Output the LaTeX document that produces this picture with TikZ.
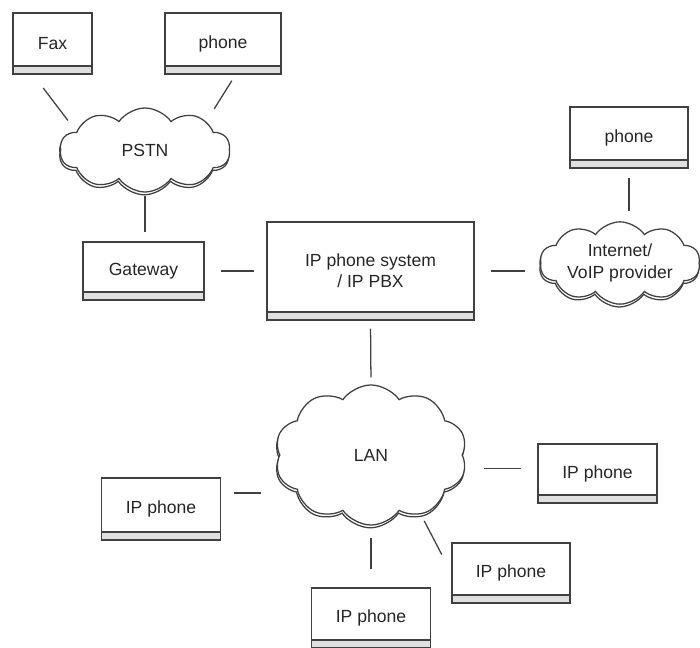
\documentclass[tikz,border=0pt]{standalone}
\usepackage{fontspec}
\setmainfont{Liberation Sans}
\usetikzlibrary{shapes.symbols,shadows}
\tikzset{
  devbox/.style={draw=black!75, line width=0.9pt, fill=white, minimum height=1.5cm,
    align=center, text=black!85, font=\fontsize{12.5}{15}\selectfont,
    path picture={
      \fill[gray!25] (path picture bounding box.south west) rectangle ([yshift=0.2cm]path picture bounding box.south east);
      \draw[black!75, line width=0.9pt] ([yshift=0.2cm]path picture bounding box.south west) -- ([yshift=0.2cm]path picture bounding box.south east);
    }},
  net/.style={cloud, cloud puffs=10, cloud puff arc=110, draw=black!75, line width=0.9pt,
    fill=white, inner sep=0pt, align=center, text=black!85, font=\fontsize{12.5}{15}\selectfont,
    copy shadow={shadow xshift=-0.5pt, shadow yshift=-2pt, draw=black!75, fill=white}},
  link/.style={draw=black!75, line width=0.9pt},
}
\begin{document}
\begin{tikzpicture}[x=0.025cm,y=-0.025cm]
\useasboundingbox (0,0) rectangle (700,648);

% analogue side
\node[devbox, minimum width=1.975cm, minimum height=1.525cm] (fax) at (52.5,43.5) {Fax};
\node[devbox, minimum width=2.9cm, minimum height=1.525cm] (phoneA) at (223,43.5) {phone};
\node[net, minimum width=4.25cm, minimum height=2.1cm, aspect=2] (pstn) at (145,150) {PSTN};
\node[devbox, minimum width=3.025cm, minimum height=1.45cm] (gateway) at (143.5,271) {Gateway};

% system and provider
\node[devbox, minimum width=5.175cm, minimum height=2.45cm] (pbx) at (370.5,271) {IP phone system\\/ IP PBX};
\node[devbox, minimum width=2.95cm, minimum height=1.525cm] (phoneB) at (629,137.5) {phone};
\node[net, minimum width=4cm, minimum height=2.05cm, aspect=2, inner sep=-5pt] (inet) at (620,263) {Internet/\\VoIP provider};

% local network
\node[net, minimum width=4.8cm, minimum height=3.5cm, aspect=1.37] (lan) at (371,455) {LAN};
\node[devbox, minimum width=2.975cm, minimum height=1.475cm] (ipR) at (597.5,473.5) {IP phone};
\node[devbox, minimum width=2.975cm, minimum height=1.55cm] (ipL) at (161,509) {IP phone};
\node[devbox, minimum width=2.95cm] (ipBR) at (511,573) {IP phone};
\node[devbox, minimum width=2.975cm] (ipB) at (371,618) {IP phone};

% connectors
\draw[link, shorten <=0.42cm, shorten >=0.35cm] (fax.238) -- (pstn.165);
\draw[link, shorten <=0.18cm, shorten >=0.37cm] (phoneA.292) -- (pstn.25);
\draw[link, shorten <=0.075cm, shorten >=0.225cm] (pstn.south) -- (pstn.south |- gateway.north);
\draw[link, shorten <=0.4cm, shorten >=0.3cm] (gateway.east) -- (pbx.west);
\draw[link, shorten <=0.4cm, shorten >=0.375cm] (pbx.east) -- (pbx.east -| inet.west);
\draw[link, shorten <=0.225cm, shorten >=0.25cm] (phoneB.south) -- (phoneB.south |- inet.north);
\draw[link, shorten <=0.2cm, shorten >=0.175cm] (pbx.south) -- (lan.north);
\draw[link, shorten <=0.4cm, shorten >=0.525cm] (ipR.175) -- (ipR.175 -| lan.east);
\draw[link, shorten <=0.325cm, shorten >=0.45cm] (ipL.15) -- (ipL.15 -| lan.west);
\draw[link, shorten <=0.3cm, shorten >=0.45cm] (lan.south) -- (ipB.north);
\draw[link, shorten <=0.18cm, shorten >=0.52cm] (lan.-50) -- (ipBR.west);
\end{tikzpicture}
\end{document}
